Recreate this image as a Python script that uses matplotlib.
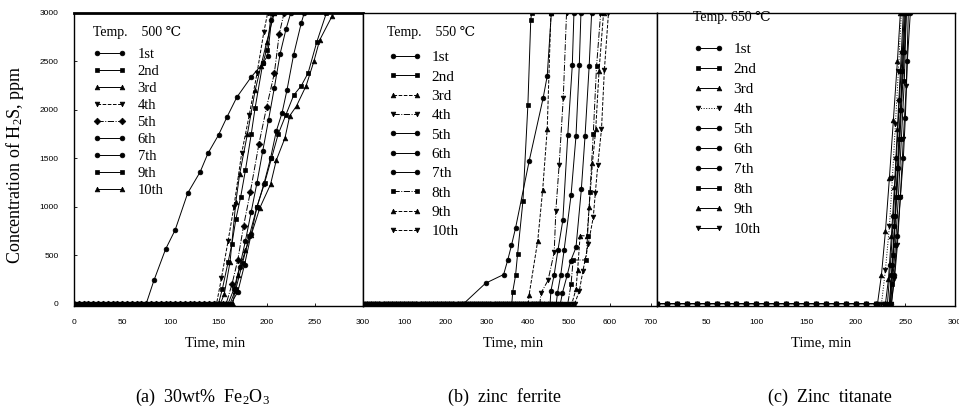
import matplotlib
matplotlib.use('Agg')
import matplotlib.pyplot as plt

plt.rcParams['font.family'] = ['Liberation Serif', 'DejaVu Serif', 'DejaVu Sans']
plt.rcParams['mathtext.fontset'] = 'custom'
plt.rcParams['mathtext.rm'] = 'Liberation Serif'
plt.rcParams['mathtext.it'] = 'Liberation Serif:italic'

# ---- (a) 30wt% Fe2O3, 500 C ----
A_LABELS = ['1st', '2nd', '3rd', '4th', '5th', '6th', '7th', '9th', '10th']
A_BASE_T = [0, 5, 10, 15, 20, 25, 30, 35, 40, 45, 50, 55, 60, 65, 70, 75, 80, 85,
            90, 95, 100, 105, 110, 115, 120, 125, 130, 135, 140, 145, 150, 155, 160]
A_RISE_T = [
    [75, 83, 95, 105, 118, 131, 139, 150, 159, 169, 184, 196, 201, 205, 207],
    [150, 154, 160, 164, 168, 173, 178, 184, 188, 196, 200, 205],
    [152, 156, 162, 168, 172, 180, 188, 194, 200, 208],
    [148, 153, 160, 166, 174, 182, 190, 197, 201],
    [158, 164, 170, 176, 183, 192, 200, 208, 213, 218],
    [160, 166, 172, 178, 184, 190, 196, 202, 208, 214, 220, 225],
    [163, 170, 177, 184, 190, 197, 204, 210, 216, 221, 228, 236, 239],
    [162, 168, 175, 182, 190, 198, 205, 212, 220, 228, 236, 243, 252, 262],
    [165, 167, 170, 178, 184, 193, 204, 210, 219, 224, 231, 241, 249, 255, 268],
]
A_RISE_C = [
    [0, 240, 560, 760, 1140, 1360, 1550, 1740, 1930, 2130, 2340, 2480, 2560, 2930, 3000],
    [0, 150, 430, 620, 870, 1100, 1380, 1750, 2020, 2480, 2620, 3000],
    [0, 100, 430, 1050, 1340, 1750, 2200, 2450, 2700, 3000],
    [0, 260, 650, 1000, 1550, 1950, 2380, 2800, 3000],
    [0, 200, 450, 800, 1150, 1650, 2030, 2380, 2780, 3000],
    [0, 150, 380, 650, 950, 1250, 1580, 1900, 2230, 2580, 2830, 3000],
    [0, 120, 400, 720, 1000, 1230, 1500, 1780, 1970, 2200, 2570, 2900, 3000],
    [0, 150, 420, 700, 1000, 1250, 1500, 1750, 1950, 2150, 2250, 2380, 2700, 3000],
    [0, 130, 300, 550, 710, 990, 1230, 1480, 1710, 1940, 2040, 2250, 2500, 2720, 2970],
]
A_MARK = ['o', 's', '^', 'v', 'D', 'o', 'o', 's', '^']
A_LS = ['-', '-', '-', '--', '-.', '-', '-', '-', '-']

# ---- (b) zinc ferrite, 550 C ----
B_LABELS = ['1st', '2nd', '3rd', '4th', '5th', '6th', '7th', '8th', '9th', '10th']
B_BASE_T = [0, 10, 20, 30, 40, 50, 60, 70, 80, 90, 100, 110, 120, 130, 140, 150, 160,
            170, 180, 190, 200, 210, 220, 230, 240, 250, 260, 270, 280, 290, 300, 310,
            320, 330, 340, 350, 360, 370, 380, 390, 400, 410, 420, 430, 440, 450, 460,
            470, 480, 490, 500, 510]
B_RISE_T = [
    [245, 298, 342, 352, 361, 371, 404, 438, 448, 458],
    [362, 364, 371, 376, 389, 401, 408, 410],
    [402, 404, 425, 437, 448, 457],
    [430, 433, 450, 465, 469, 477, 487, 495],
    [455, 457, 465, 474, 486, 498, 509, 513],
    [470, 473, 481, 489, 506, 518, 526, 530],
    [480, 485, 497, 505, 518, 531, 540, 550, 556],
    [498, 506, 511, 543, 546, 552, 560, 568, 578],
    [508, 518, 522, 528, 545, 550, 558, 566, 574, 585],
    [515, 526, 535, 548, 560, 565, 571, 580, 587, 597],
]
B_RISE_C = [
    [0, 210, 300, 450, 600, 780, 1470, 2120, 2350, 3000],
    [0, 120, 290, 515, 1060, 2050, 2930, 3000],
    [0, 90, 650, 1175, 1800, 3000],
    [0, 110, 240, 530, 960, 1430, 2120, 3000],
    [0, 130, 300, 550, 860, 1740, 2460, 3000],
    [0, 110, 300, 550, 1120, 1730, 2460, 3000],
    [0, 110, 300, 440, 580, 1180, 1730, 2450, 3000],
    [0, 200, 450, 450, 700, 1150, 1750, 2450, 3000],
    [0, 150, 350, 700, 700, 1000, 1450, 1800, 2400, 3000],
    [0, 130, 340, 620, 890, 1140, 1430, 1800, 2410, 3000],
]
B_MARK = ['o', 's', '^', 'v', 'o', 'o', 'o', 's', '^', 'v']
B_LS = ['-', '-', '--', '-.', '-', '-', '-', '-.', '--', '--']

# ---- (c) zinc titanate, 650 C ----
C_LABELS = ['1st', '2nd', '3rd', '4th', '5th', '6th', '7th', '8th', '9th', '10th']
C_BASE_T = [0, 10, 20, 30, 40, 50, 60, 70, 80, 90, 100, 110, 120, 130, 140, 150, 160,
            170, 180, 190, 200, 210, 220, 230]
C_RISE_T = [
    [234, 237, 240, 243, 246, 249, 251],
    [235, 238, 241, 244, 247, 250],
    [230, 233, 236, 239, 242, 245, 248],
    [226, 230, 234, 237, 240, 243, 246],
    [236, 239, 242, 245, 248, 250, 252, 255],
    [234, 236, 239, 242, 245, 248, 250],
    [232, 235, 238, 241, 244, 247, 249],
    [235, 237, 240, 243, 246, 249, 251],
    [222, 226, 230, 234, 238, 242, 245],
    [236, 239, 242, 245, 248, 251, 253],
]
C_RISE_C = [
    [0, 400, 900, 1400, 2000, 2600, 3000],
    [0, 500, 1100, 1700, 2400, 3000],
    [0, 250, 700, 1200, 1800, 2400, 3000],
    [0, 350, 800, 1300, 1850, 2400, 3000],
    [0, 300, 700, 1100, 1500, 1920, 2500, 3000],
    [0, 300, 800, 1400, 2000, 2600, 3000],
    [0, 400, 900, 1500, 2100, 2600, 3000],
    [0, 200, 600, 1100, 1700, 2300, 3000],
    [0, 300, 750, 1300, 1900, 2500, 3000],
    [0, 250, 600, 1100, 1700, 2250, 3000],
]
C_MARK = ['o', 's', '^', 'v', 'o', 'o', 'o', 's', '^', 'v']
C_LS = ['-', '-', '-', ':', '-', '-', '-', '-', '-', '-']

W, H = 959, 420
fig = plt.figure(figsize=(W / 100, H / 100), dpi=100)


def px_axes(x0, x1, y0, y1):
    return fig.add_axes([x0 / W, 1 - y1 / H, (x1 - x0) / W, (y1 - y0) / H])


def draw_panel(ax, base_t, rise_t, rise_c, labels, marks, styles):
    for t, c, lab, m, ls in zip(rise_t, rise_c, labels, marks, styles):
        bt = [x for x in base_t if x < t[0]]
        xs = bt + t
        ys = [0] * len(bt) + c
        ax.plot(xs, ys, color='black', lw=0.7, ls=ls, marker=m, ms=3.4,
                markeredgewidth=0.5, label=lab)
    ax.set_ylim(-25, 3000)
    ax.tick_params(direction='in', length=2, width=0.6, labelsize=6,
                   labelfontfamily='Liberation Sans')
    ax.tick_params(axis='x', pad=9)
    for sp in ax.spines.values():
        sp.set_linewidth(1.0)


def add_legend(ax, title, tx, ty, lx, ly, fs, spacing, hlen, hpad):
    ax.text(tx, ty, title, transform=ax.transAxes, ha='left', va='center', fontsize=10)
    ax.legend(loc='upper left', bbox_to_anchor=(lx, ly), frameon=False, fontsize=fs,
              handlelength=hlen, handletextpad=hpad, labelspacing=spacing,
              borderaxespad=0, borderpad=0, numpoints=2)


ax_a = px_axes(74, 363, 13, 306)
ax_b = px_axes(363, 657, 13, 306)
ax_c = px_axes(657, 955, 13, 306)

draw_panel(ax_a, A_BASE_T, A_RISE_T, A_RISE_C, A_LABELS, A_MARK, A_LS)
draw_panel(ax_b, B_BASE_T, B_RISE_T, B_RISE_C, B_LABELS, B_MARK, B_LS)
draw_panel(ax_c, C_BASE_T, C_RISE_T, C_RISE_C, C_LABELS, C_MARK, C_LS)

ax_a.set_xlim(0, 300)
ax_a.set_xticks([0, 50, 100, 150, 200, 250, 300])
ax_a.set_yticks([0, 500, 1000, 1500, 2000, 2500, 3000])
ax_a.tick_params(axis='y', pad=11)
ax_a.spines['top'].set_linewidth(2.0)

ax_b.set_xlim(0, 715)
ax_b.set_xticks([100, 200, 300, 400, 500, 600, 700])
ax_b.set_yticks([])

ax_c.set_xlim(0, 300)
ax_c.set_xticks([50, 100, 150, 200, 250, 300])
ax_c.set_yticks([])

add_legend(ax_a, 'Temp.    500 \u2103', 0.066, 0.932, 0.066, 0.881, 10.5, 0.26, 2.3, 0.75)
add_legend(ax_b, 'Temp.    550 \u2103', 0.082, 0.932, 0.085, 0.872, 11, 0.37, 2.2, 0.65)
add_legend(ax_c, 'Temp. 650 \u2103', 0.121, 0.983, 0.121, 0.899, 11, 0.41, 2.0, 0.65)

fig.text(15 / W, 1 - 165 / H, 'Concentration of H$_{\\mathregular{2}}$S, ppm',
         rotation=90, ha='center', va='center', fontsize=13)

for xc, in [(215,), (513,), (821,)]:
    fig.text(xc / W, 1 - 343 / H, 'Time, min', ha='center', va='center', fontsize=10.5)

fig.text(202 / W, 1 - 397 / H, '(a)  30wt%  Fe$_{\\mathregular{2}}$O$_{\\mathregular{3}}$',
         ha='center', va='center', fontsize=13)
fig.text(505 / W, 1 - 397 / H, '(b)  zinc  ferrite', ha='center', va='center', fontsize=13)
fig.text(830 / W, 1 - 397 / H, '(c)  Zinc  titanate', ha='center', va='center', fontsize=13)

fig.savefig('out.png', dpi=100)
